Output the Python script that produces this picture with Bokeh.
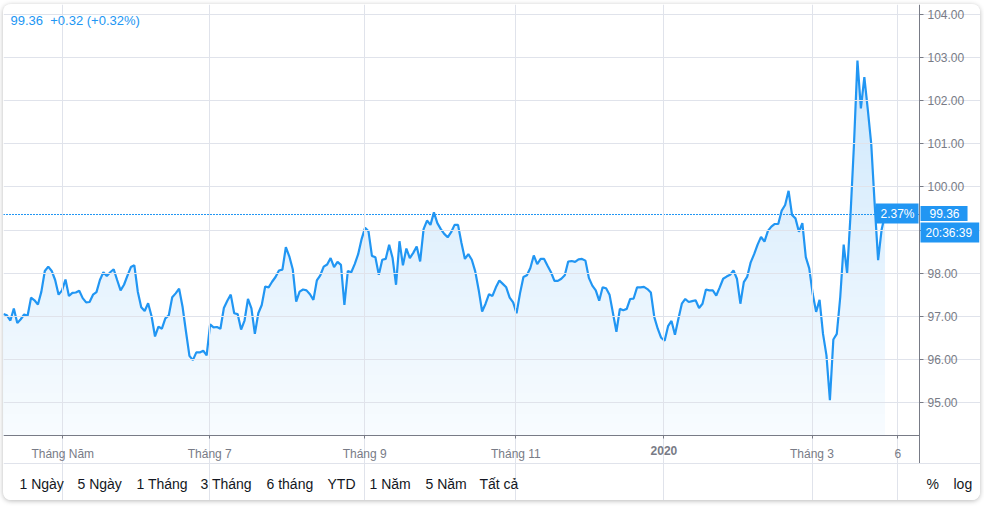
from bokeh.embed import file_html
from bokeh.resources import INLINE
from bokeh.plotting import figure
from bokeh.models import Range1d, FixedTicker, Label, Span, NumeralTickFormatter
import numpy as np

# dollar index, one value per trading day
prices_1 = [97.05, 97.02, 96.90, 97.18, 96.84, 96.93, 97.04, 97.01, 97.43, 97.37, 97.27, 97.57, 98.05, 98.15, 98.05, 97.84,
            97.50, 97.60, 97.85, 97.47, 97.54, 97.55, 97.59, 97.42, 97.32, 97.33, 97.50, 97.56, 97.84, 98.02, 97.93, 98.02,
            98.09, 97.84, 97.60, 97.73, 97.94, 98.14, 98.18, 97.57, 97.21, 97.12, 97.30, 97.00, 96.53, 96.76, 96.71, 96.95,
            97.02, 97.44, 97.53, 97.64, 97.22, 96.64, 96.08, 95.98, 96.16, 96.16, 96.20, 96.09, 96.81, 96.74, 96.75, 96.71,
            97.19, 97.36, 97.50, 97.07, 97.05, 96.69, 96.90, 97.40, 97.18, 96.59, 97.07, 97.26, 97.69, 97.67, 97.80, 97.91,
            98.06, 98.08, 98.60, 98.39, 98.09, 97.34, 97.57, 97.62, 97.60, 97.51, 97.38, 97.83, 97.95, 98.15, 98.20, 98.35]
prices_2 = [98.14, 98.26, 98.19, 97.26, 98.05, 98.02, 98.21, 98.44, 98.79, 99.05, 98.97, 98.40, 98.37, 97.96, 98.31, 98.33,
            98.66, 98.35, 97.73, 98.74, 98.18, 98.57, 98.35, 98.47, 98.62, 98.27, 99.02, 99.22, 99.12, 99.41, 99.16, 99.02,
            98.91, 98.83, 98.95, 99.12, 99.12, 98.70, 98.33, 98.44, 98.31, 98.04, 97.61, 97.11, 97.29, 97.51, 97.47, 97.67,
            97.83, 97.75, 97.67, 97.43, 97.32, 97.07, 97.53, 97.91, 97.95, 98.12, 98.41, 98.21, 98.33, 98.33, 98.17, 98.02,
            97.82, 97.82, 97.87, 97.95, 98.27, 98.28, 98.26, 98.32, 98.33, 98.29, 97.89, 97.71, 97.60, 97.36, 97.67, 97.65,
            97.50, 97.07, 96.64, 97.17, 97.14, 97.17, 97.40, 97.41, 97.67, 97.67, 97.68, 97.63, 97.55, 96.98, 96.71, 96.50]
prices_3 = [96.43, 96.77, 96.89, 96.57, 96.94, 97.29, 97.40, 97.33, 97.35, 97.37, 97.19, 97.29, 97.62, 97.60, 97.60, 97.48,
            97.67, 97.87, 97.92, 97.96, 98.06, 97.87, 97.29, 97.79, 97.92, 98.25, 98.44, 98.66, 98.84, 98.73, 98.98, 99.08,
            99.14, 99.14, 99.45, 99.58, 99.91, 99.35, 99.27, 98.96, 99.16, 98.37, 98.11, 97.52, 97.10, 97.38, 96.59, 96.09,
            95.05, 96.46, 96.59, 97.44, 98.66, 98.00, 99.37, 101.00, 102.93, 101.82, 102.55, 101.80, 101.00, 99.60, 98.30,
            99.00, 99.36]

time_ticks = [17.2, 59.9, 104.9, 148.8, 191.8, 234.8, 259.7]
time_labels = ["Tháng Năm", "Tháng 7", "Tháng 9", "Tháng 11", "", "Tháng 3", "6"]
price_ticks = [95, 96, 97, 98, 99, 100, 101, 102, 103, 104]
range_buttons = ["1 Ngày", "5 Ngày", "1 Tháng", "3 Tháng", "6 tháng", "YTD", "1 Năm", "5 Năm", "Tất cả"]
last_price = 99.36

BLUE = "#2196f3"
GREY = "#787b86"
GRID = "#e0e3eb"
INK = "#131722"
FONT = "Liberation Sans"

prices = np.array(prices_1 + prices_2 + prices_3)
days = np.arange(len(prices))
day_px = 881.5 / (len(prices) - 1)
price_px = 43.1

# the frame fills the whole card, axes sit inside it at fixed places
W, H = 977, 496
pane_w, pane_h = 916, 431
y_top = 104.2324
y_pane = y_top - pane_h / price_px
y_rule = y_top - 459 / price_px
x_pane = pane_w / day_px

p = figure(width=W, height=H, output_backend="svg", toolbar_location=None,
           x_range=Range1d(0, W / day_px), y_range=Range1d(y_top - H / price_px, y_top),
           y_axis_location="right", min_border=0,
           min_border_left=0, min_border_top=0, min_border_right=0, min_border_bottom=0)
p.styles = {"margin-left": "3px", "margin-top": "4px", "border-radius": "8px", "overflow": "hidden",
            "box-shadow": "0 1px 5px rgba(0,0,0,0.28)"}
p.outline_line_color = None
p.background_fill_color = "white"
p.border_fill_color = "white"

p.xaxis.fixed_location = y_pane
p.yaxis.fixed_location = x_pane
p.xaxis.bounds = (0, x_pane)
p.yaxis.bounds = (y_rule, y_top)
p.xaxis.ticker = FixedTicker(ticks=time_ticks)
p.xaxis.major_label_overrides = dict(zip(time_ticks, time_labels))
p.yaxis.ticker = FixedTicker(ticks=price_ticks)
p.yaxis.formatter = NumeralTickFormatter(format="0.00")
for ax in (p.xaxis, p.yaxis):
    ax.axis_line_color = GREY
    ax.major_tick_line_color = GREY
    ax.minor_tick_line_color = None
    ax.major_tick_in = 0
    ax.major_label_text_color = GREY
    ax.major_label_text_font = FONT
    ax.major_label_text_font_size = "12px"
p.xaxis.major_tick_out = 3
p.yaxis.major_tick_out = 4
p.xaxis.major_label_standoff = 8
p.yaxis.major_label_standoff = 4
p.xgrid.bounds = (y_pane, y_top)
p.ygrid.bounds = (0, x_pane)
p.grid.grid_line_color = GRID
p.grid.level = "glyph"

# vertical gradient under the line, painted from the top band down
top = prices.max()
for level in np.arange(top, y_pane, -0.1):
    a = 0.03 + 0.19 * (level - y_pane) / (top - y_pane)
    c = [round(255 - (255 - ch) * a) for ch in (33, 150, 243)]
    p.varea(days, y_pane, np.minimum(prices, level), color="#%02x%02x%02x" % tuple(c), level="underlay")

p.line(days, prices, line_color=BLUE, line_width=2.2)
p.segment(-0.5 / day_px, last_price, x_pane, last_price, line_color=BLUE, line_width=1, line_dash="2 1")

# rule above the button row
p.add_layout(Span(location=y_rule, dimension="width", line_color=GRID, line_width=1))

p.add_layout(Label(x=7, y=H - 16, x_units="screen", y_units="screen", text="99.36\u00a0 +0.32 (+0.32%)", text_color=BLUE,
                   text_font=FONT, text_font_size="13px", text_baseline="middle"))
p.add_layout(Label(x=time_ticks[4], y=H - 446, y_units="screen", text="2020", text_color=GREY, text_font=FONT,
                   text_font_size="12px", text_font_style="bold", text_align="center", text_baseline="middle"))

# padding here is left, right, top, bottom
tag = dict(text_color="white", text_font=FONT, text_font_size="12px", background_fill_color=BLUE,
           text_baseline="middle", x_units="screen")
p.add_layout(Label(x=872, y=last_price, y_offset=1, text="2.37%", padding=(5, 4, 3, 3), **tag))
p.add_layout(Label(x=917, y=last_price, y_offset=1, text="99.36", padding=(9, 8, 3, 3), **tag))
p.add_layout(Label(x=917, y=last_price, y_offset=-18, text="20:36:39", padding=(5, 7, 3, 3), **tag))

button_x = [16, 74, 133, 197, 263, 324, 366, 422, 476]
row_y = H - 479
for bx, name in zip(button_x, range_buttons):
    p.add_layout(Label(x=bx, y=row_y, x_units="screen", y_units="screen", text=name, text_color=INK,
                       text_font=FONT, text_font_size="14px", text_baseline="middle"))
p.add_layout(Label(x=923, y=row_y, x_units="screen", y_units="screen", text="%", text_color=INK,
                   text_font=FONT, text_font_size="14px", text_baseline="middle"))
p.add_layout(Label(x=950, y=row_y, x_units="screen", y_units="screen", text="log", text_color=INK,
                   text_font=FONT, text_font_size="14px", text_baseline="middle"))

open("out.html", "w").write(file_html(p, INLINE))
